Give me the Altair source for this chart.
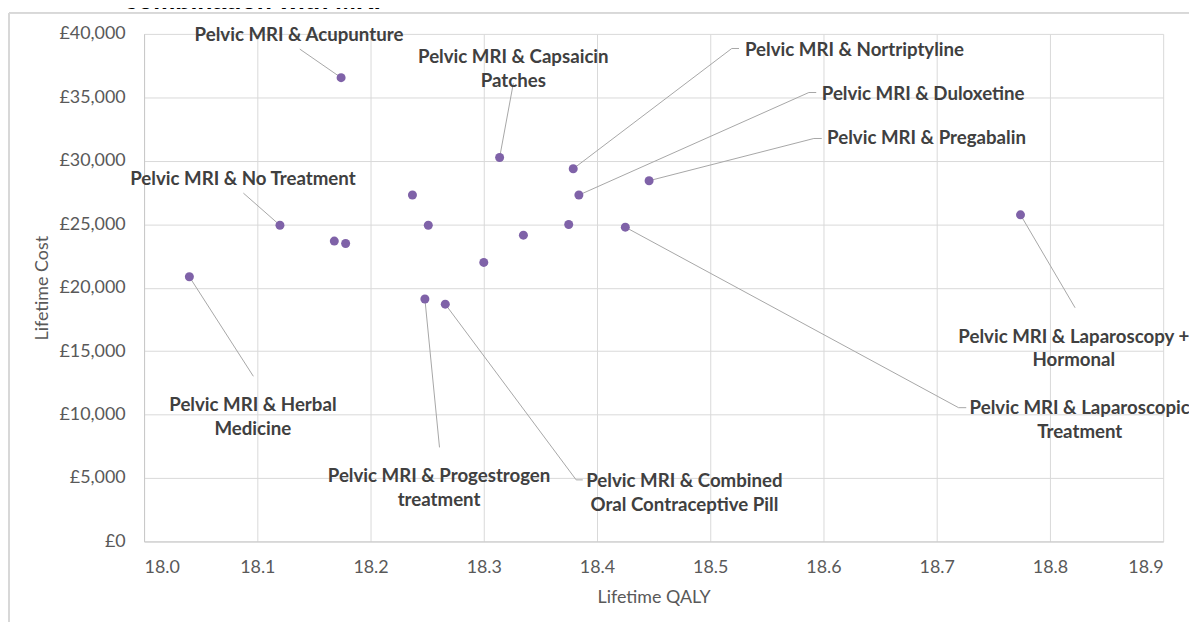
import altair as alt
import pandas as pd

# ---- data ----
qaly = [18.174, 18.314, 18.379, 18.384, 18.120, 18.168, 18.178, 18.040, 18.237,
        18.251, 18.335, 18.300, 18.248, 18.266, 18.375, 18.446, 18.425, 18.774]
cost = [36550, 30260, 29370, 27300, 24920, 23670, 23480, 20860, 27300,
        24920, 24140, 21990, 19110, 18700, 24980, 28430, 24770, 25740]

x_ticks = [18.0, 18.1, 18.2, 18.3, 18.4, 18.5, 18.6, 18.7, 18.8, 18.9]
y_ticks = [0, 5000, 10000, 15000, 20000, 25000, 30000, 35000, 40000]

label_text = [
    "Pelvic MRI & Acupunture",
    "Pelvic MRI & Capsaicin\nPatches",
    "Pelvic MRI & Nortriptyline",
    "Pelvic MRI & Duloxetine",
    "Pelvic MRI & No Treatment",
    "Pelvic MRI & Herbal\nMedicine",
    "Pelvic MRI & Progestrogen\ntreatment",
    "Pelvic MRI & Combined\nOral Contraceptive Pill",
    "Pelvic MRI & Pregabalin",
    "Pelvic MRI & Laparoscopic\nTreatment",
    "Pelvic MRI & Laparoscopy +\nHormonal",
]
label_point = [0, 1, 2, 3, 4, 7, 12, 13, 15, 16, 17]
label_qaly = [18.1368, 18.3261, 18.5307, 18.5985, 18.0873, 18.0961, 18.2605,
              18.4772, 18.6032, 18.8263, 18.8211]
label_cost = [39923, 38201, 38725, 35252, 28596, 10740, 5151, 4775, 31758,
              10490, 16149]
label_align = ["center", "center", "left", "left", "center", "center", "center",
               "center", "left", "center", "center"]
leader_bends = [
    [(18.1375, 38803)],
    [(18.3261, 36110)],
    [(18.5190, 38850), (18.5254, 38850)],
    [(18.5871, 35382), (18.5936, 35382)],
    [(18.0877, 27453)],
    [(18.0965, 13018)],
    [(18.2609, 7413)],
    [(18.3816, 4853), (18.3874, 4853)],
    [(18.5915, 31758), (18.5985, 31758)],
    [(18.7193, 10544), (18.7261, 10544)],
    [(18.8222, 18419)],
]

title_text = "combination with MRI"

# ---- tables ----
pts = pd.DataFrame({"qaly": qaly, "cost": cost})

rows = []
for i, (pi, bends) in enumerate(zip(label_point, leader_bends)):
    rows.append({"id": i, "o": 0, "qaly": qaly[pi], "cost": cost[pi]})
    for k, (bq, bc) in enumerate(bends):
        rows.append({"id": i, "o": k + 1, "qaly": bq, "cost": bc})
leaders = pd.DataFrame(rows)

labels = pd.DataFrame({"text": label_text, "qaly": label_qaly,
                       "cost": label_cost, "align": label_align})

FONT = "Lato"
LABEL_SIZE = 18.8
xs = alt.Scale(domain=[18.0, 18.9], nice=False, zero=False)
ys = alt.Scale(domain=[0, 40000], nice=False)

X = alt.X("qaly:Q", scale=xs, title="Lifetime QALY",
          axis=alt.Axis(values=x_ticks, format=".1f", ticks=False,
                        labelPadding=17, titlePadding=12))
Y = alt.Y("cost:Q", scale=ys, title="Lifetime Cost",
          axis=alt.Axis(values=y_ticks, ticks=False, labelPadding=19,
                        titlePadding=7,
                        labelExpr="'£' + format(datum.value, ',')"))

base_pts = alt.Chart(pts).mark_circle(size=82, opacity=1, color="#7F62A8").encode(
    x=X, y=Y)

lines = alt.Chart(leaders).mark_line(color="#a6a6a6", strokeWidth=1).encode(
    x=alt.X("qaly:Q", scale=xs), y=alt.Y("cost:Q", scale=ys),
    detail="id:N", order="o:Q")

txt_c = alt.Chart(labels).transform_filter("datum.align == 'center'").mark_text(
    font=FONT, fontWeight="bold", fontSize=LABEL_SIZE, color="#404040",
    align="center", baseline="middle", lineBreak="\n", lineHeight=24
).encode(x=alt.X("qaly:Q", scale=xs), y=alt.Y("cost:Q", scale=ys), text="text:N")

txt_l = alt.Chart(labels).transform_filter("datum.align == 'left'").mark_text(
    font=FONT, fontWeight="bold", fontSize=LABEL_SIZE, color="#404040",
    align="left", baseline="middle", lineBreak="\n", lineHeight=24
).encode(x=alt.X("qaly:Q", scale=xs), y=alt.Y("cost:Q", scale=ys), text="text:N")

border_top = alt.Chart(pts).mark_rule(color="#d9d9d9", strokeWidth=1).encode(
    x=alt.value(-136), x2=alt.value(1200), y=alt.value(-21))
border_left = alt.Chart(pts).mark_rule(color="#d9d9d9", strokeWidth=1).encode(
    x=alt.value(-136), y=alt.value(-21), y2=alt.value(700))

title = alt.Chart(pd.DataFrame({"t": [title_text]})).mark_text(
    font="Liberation Sans", fontWeight="bold", fontSize=25, color="#000000",
    align="left", baseline="alphabetic"
).encode(x=alt.value(-20), y=alt.value(-25), text="t:N")

chart = alt.layer(border_top, border_left, title, lines, base_pts, txt_c, txt_l).properties(
    width=1026, height=511,
    autosize=alt.AutoSizeParams(type="none"),
    padding={"left": 137, "top": 24, "right": 26, "bottom": 79},
    background="white",
).configure_view(stroke=None).configure_axis(
    grid=True, gridColor="#d9d9d9", gridWidth=1,
    domainColor="#c8c8c8", domainWidth=1,
    labelFont=FONT, labelFontSize=18, labelColor="#595959",
    titleFont=FONT, titleFontSize=18, titleColor="#595959", titleFontWeight="normal",
)

chart.save("out.html", embed_options={"renderer": "svg", "actions": False})
